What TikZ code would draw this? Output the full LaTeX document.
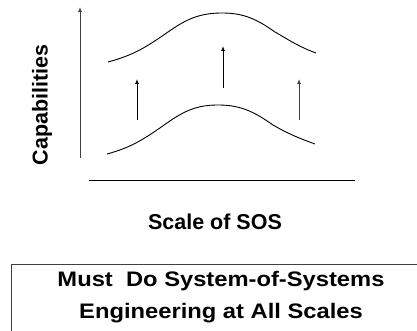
\documentclass[tikz,border=0pt]{standalone}
\usepackage{fontspec}
\usepackage{graphicx}
\setmainfont{Liberation Sans}
\usetikzlibrary{arrows.meta}

\begin{document}
\begin{tikzpicture}[>={Latex[length=5pt,width=4pt]},x=1pt,y=1pt]
  \tikzstyle{lbl}=[font=\bfseries\fontsize{21.5}{26}\selectfont,inner sep=0pt]
  \tikzstyle{msg}=[font=\bfseries\fontsize{21}{26}\selectfont,inner sep=0pt,anchor=base]
  \tikzstyle{band}=[line width=0.9pt]
  \tikzstyle{up}=[line width=0.9pt,->]
  \clip (0,0) rectangle (417,331);
  % axes
  \coordinate (ybot) at (80,173);
  \coordinate (ytop) at (80,324);
  \coordinate (xl) at (89,151);
  \coordinate (xr) at (355,151);
  \draw[up,black!75] (ybot) -- (ytop);
  \draw[line width=0.9pt] (xl) -- (xr);
  \node[lbl,rotate=90] (cap) at (42,226) {Capabilities};
  \node[lbl] (scale) at (215,109) {Scale of SOS};
  % the two capability bands
  \draw[band] (108,269) to[out=15,in=215] (168,299) to[out=35,in=180] (222,318)
    to[out=0,in=145] (275,299) to[out=-30,in=160] (316,278);
  \draw[band] (107,177) to[out=15,in=215] (167,208) to[out=35,in=180] (218,226)
    to[out=0,in=145] (273,206) to[out=-30,in=160] (315,187);
  % lifting arrows
  \coordinate (l0) at (137,211); \coordinate (l1) at (137,252);
  \coordinate (m0) at (223,243); \coordinate (m1) at (223,285);
  \coordinate (r0) at (299,211); \coordinate (r1) at (299,252);
  \draw[up] (l0) -- (l1);
  \draw[up] (m0) -- (m1);
  \draw[up,black!75] (r0) -- (r1);
  % message box
  \draw[line width=0.9pt,black!75] (11,-20) rectangle (440,67);
  \node[msg] (must) at (221,44) {\scalebox{1.13}[1]{Must\ \ Do System-of-Systems}};
  \node[msg] (eng) at (221,12) {\scalebox{1.13}[1]{Engineering at All Scales}};
\end{tikzpicture}
\end{document}
